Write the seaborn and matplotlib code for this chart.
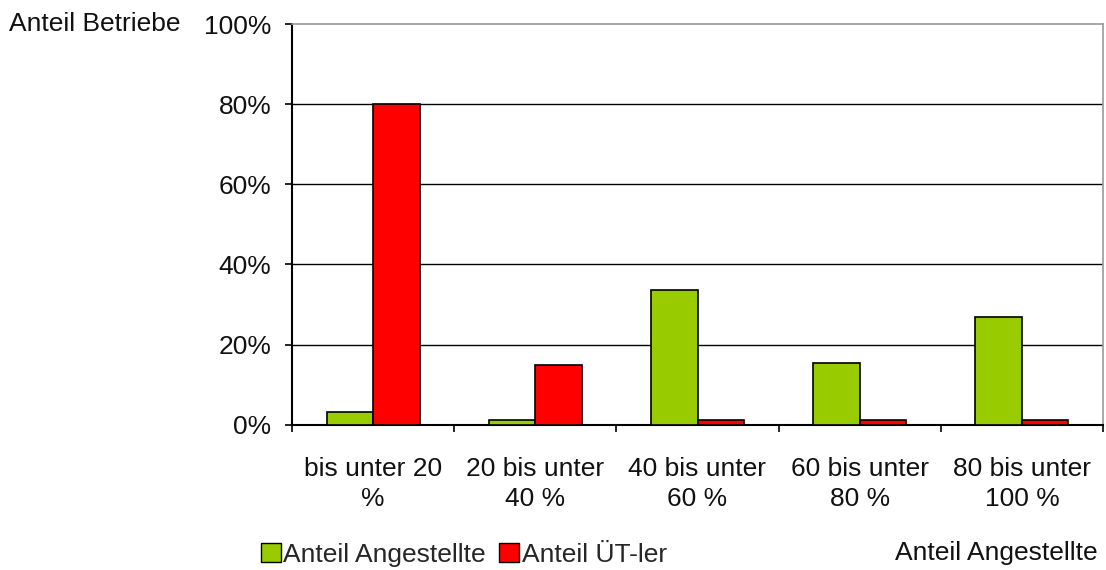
import matplotlib
matplotlib.use("Agg")
import matplotlib.pyplot as plt
from matplotlib.patches import Patch
from matplotlib.ticker import FixedLocator, PercentFormatter
import seaborn as sns
import pandas as pd

categories = ["bis unter 20\n%", "20 bis unter\n40 %", "40 bis unter\n60 %",
              "60 bis unter\n80 %", "80 bis unter\n100 %"]
series_names = ["Anteil Angestellte", "Anteil ÜT-ler"]
angestellte = [3.2, 1.25, 33.6, 15.5, 26.9]
ut_ler = [80.0, 15.0, 1.25, 1.25, 1.25]
y_ticks = [0, 20, 40, 60, 80, 100]
colors = ["#99CC00", "#FF0000"]

df = pd.DataFrame({
    "Kategorie": categories * 2,
    "Serie": [series_names[0]] * len(categories) + [series_names[1]] * len(categories),
    "Wert": angestellte + ut_ler,
})

sns.set_theme(style="white")
plt.rcParams["font.family"] = ["Liberation Sans", "DejaVu Sans"]
FS = 19

fig = plt.figure(figsize=(11.06, 5.70), dpi=100)
ax = fig.add_axes([292 / 1106, 1 - 424.7 / 570, (1103 - 292) / 1106, (424.7 - 24) / 570])

sns.barplot(data=df, x="Kategorie", y="Wert", hue="Serie", order=categories,
            hue_order=series_names, palette=colors, width=0.573,
            edgecolor="black", linewidth=1.2, saturation=1, ax=ax,
            legend=False, errorbar=None, zorder=3)

ax.set_ylim(0, 100)
ax.set_xlim(-0.5, len(categories) - 0.5)
ax.yaxis.set_major_locator(FixedLocator(y_ticks))
ax.yaxis.set_major_formatter(PercentFormatter(decimals=0))
for t in y_ticks[1:-1]:
    ax.axhline(t, color="black", linewidth=1.0, zorder=1)

ax.set_xlabel("")
ax.set_ylabel("")
ax.tick_params(axis="y", which="major", length=5, width=1.2, color="black",
               labelsize=FS, pad=10, left=True, direction="out")
ax.tick_params(axis="x", which="major", length=0, labelsize=FS, pad=23)
ax.xaxis.set_minor_locator(FixedLocator([i - 0.5 for i in range(len(categories) + 1)]))
ax.tick_params(axis="x", which="minor", length=5, width=1.2, color="black",
               bottom=True, direction="out")
for lbl in ax.get_xticklabels():
    lbl.set_linespacing(1.33)
    lbl.set_color("#111111")
for lbl in ax.get_yticklabels():
    lbl.set_color("#111111")

for side in ["left", "bottom"]:
    ax.spines[side].set_color("black")
    ax.spines[side].set_linewidth(1.5)
for side in ["top", "right"]:
    ax.spines[side].set_color("#999999")
    ax.spines[side].set_linewidth(1.2)

fig.text(9 / 1106, 1 - 24 / 570, "Anteil Betriebe", fontsize=FS,
         ha="left", va="center", color="#111111")
fig.text(1098 / 1106, 1 - 553 / 570, "Anteil Angestellte", fontsize=FS,
         ha="right", va="center", color="#111111")

handles = [Patch(facecolor=c, edgecolor="black", linewidth=1.0) for c in colors]
fig.legend(handles, series_names, loc="center left",
           bbox_to_anchor=(261 / 1106, 1 - 555 / 570), ncol=2, frameon=False,
           fontsize=FS, handlelength=0.75, handleheight=0.75, handletextpad=0.1,
           columnspacing=0.5, borderaxespad=0, borderpad=0)

fig.savefig("out.png", dpi=100, facecolor="white")
